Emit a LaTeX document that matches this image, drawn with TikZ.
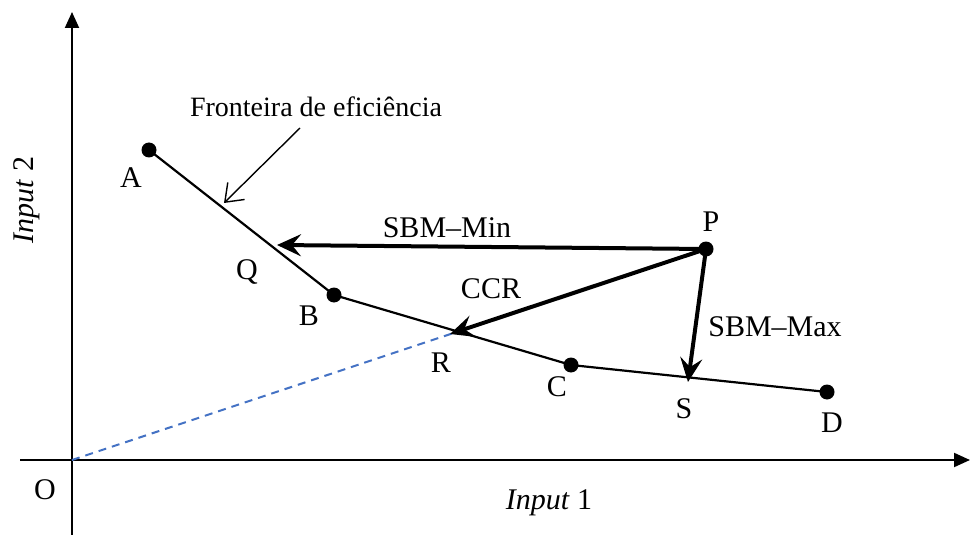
\documentclass[tikz,border=0pt]{standalone}
\usepackage{fontspec}
\setmainfont{Liberation Serif}
\usetikzlibrary{positioning,calc,arrows.meta}
\definecolor{RayBlue}{RGB}{68,114,196}

\begin{document}
\begin{tikzpicture}[
        x=0.5pt, y=-0.5pt,
        % --- STYLE ---
        % Ponto DMU: circulo preto
        dmunode/.style={circle, fill=black, minimum size=7.5pt, inner sep=0pt},
        % Rotulos
        lbl/.style={font=\fontsize{15}{18}\selectfont, inner sep=1pt},
        % Eixos
        axisline/.style={draw=black, line width=1pt, -{Triangle[length=8pt,width=7pt]}},
        % Fronteira
        frontline/.style={draw=black, line width=1.1pt},
        % Projecoes
        projline/.style={draw=black, line width=2pt, -{Stealth[length=12pt,width=11pt,inset=4.5pt]}},
        % Raio CCR
        rayline/.style={draw=RayBlue, line width=1pt, dash pattern=on 4pt off 3pt}
    ]
        \useasboundingbox (0,0) rectangle (970,535);

        % --- EIXOS ---
        \coordinate (O) at (72,460);
        \coordinate (ybot) at (72,535);
        \coordinate (ytop) at (72,12);
        \coordinate (xleft) at (20,460);
        \coordinate (xright) at (970,460);
        \draw[axisline] (ybot) -- (ytop);
        \draw[axisline] (xleft) -- (xright);
        \node[lbl] (lO) at (45,490) {O};
        \node[lbl] (in1) at (549,503) {\textit{Input} 1};
        \node[lbl, rotate=90] (in2) at (27,200) {\textit{Input} 2};

        % --- PONTOS (A,B,C,D,P) ---
        \node[dmunode] (A) at (149,150) {};
        \node[dmunode] (B) at (334,295) {};
        \node[dmunode] (C) at (571,365) {};
        \node[dmunode] (D) at (827,392) {};
        \node[dmunode] (P) at (706,249) {};
        \coordinate (Q) at (277,245);
        \coordinate (R) at (450,334);
        \coordinate (S) at (688,382);

        % --- FRONTEIRA E RAIO ---
        \draw[rayline] (O) -- (P.center);
        \draw[frontline] (A.center) -- (B.center) -- (C.center) -- (D.center);

        % --- PROJECOES ---
        \draw[projline] (P.center) -- (Q);
        \draw[projline] (P.center) -- (R);
        \draw[projline] (P.center) -- (S);

        % --- ROTULOS ---
        \node[lbl] (lA) at (131,178) {A};
        \node[lbl] (lB) at (309,316) {B};
        \node[lbl] (lC) at (557,387) {C};
        \node[lbl] (lD) at (832,423) {D};
        \node[lbl] (lP) at (711,222) {P};
        \node[lbl] (lQ) at (247,272) {Q};
        \node[lbl] (lR) at (441,363) {R};
        \node[lbl] (lS) at (684,409) {S};
        \node[lbl] (smin) at (447,228) {SBM–Min};
        \node[lbl] (ccr) at (491,289) {CCR};
        \node[lbl] (smax) at (775,327) {SBM–Max};

        % Fronteira de eficiencia
        \node[lbl, font=\fontsize{14}{17}\selectfont] (fronteira) at (316,107) {Fronteira de eficiência};
        \coordinate (frtail) at (300,128);
        \coordinate (frhead) at (224,203);
        \draw[line width=0.7pt, -{Straight Barb[length=8pt,width=12pt]}] (frtail) -- (frhead);

    \end{tikzpicture}
\end{document}
